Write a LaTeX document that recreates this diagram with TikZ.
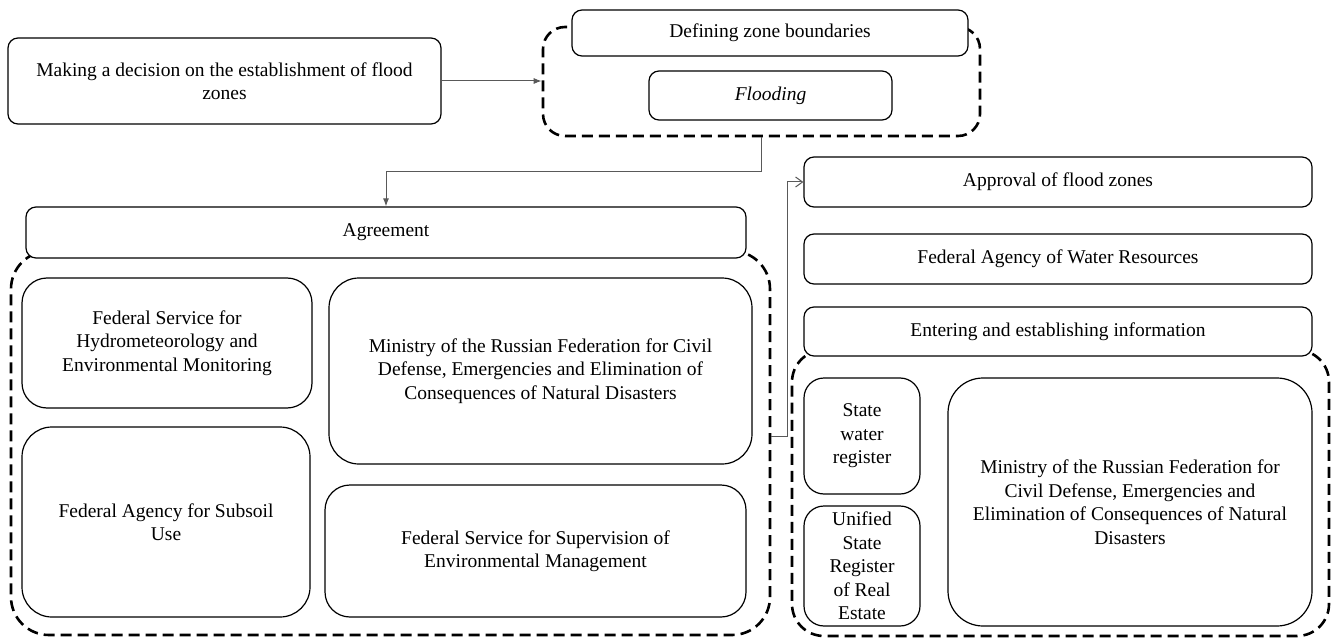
\documentclass[tikz,border=0pt]{standalone}
\usepackage{fontspec}
\setmainfont{Liberation Serif}
\usetikzlibrary{arrows.meta}

\begin{document}
\begin{tikzpicture}[x=1pt,y=-1pt,
    box/.style={draw,rounded corners=10pt,fill=white,line width=1.2pt,inner sep=0pt,
      align=center,font=\fontsize{19.5}{23.5}\selectfont},
    zone/.style={draw,rounded corners=22pt,line width=2.6pt,dash pattern=on 11pt off 6pt,inner sep=0pt},
    link/.style={draw=black!65,line width=1pt}]
    \useasboundingbox (0,0) rectangle (1333,639);
    % dashed groups first, boxes are filled white over them
    \node[zone,minimum width=437pt,minimum height=109pt] (r1) at (761.5,81.5) {};
    \node[zone,rounded corners=38pt,minimum width=759pt,minimum height=384pt] (r2) at (390.5,443) {};
    \node[zone,rounded corners=32pt,minimum width=537pt,minimum height=286pt] (r3) at (1060.5,493) {};

    \node[box,minimum width=433pt,minimum height=86pt] (decide) at (224.5,81)
      {Making a decision on the establishment of flood\\zones};
    \node[box,minimum width=396pt,minimum height=46pt] (bounds) at (770,33) {Defining zone boundaries};
    \node[box,minimum width=243pt,minimum height=49pt] (flood) at (770.5,95.5) {\itshape Flooding};

    \node[box,minimum width=720pt,minimum height=51pt] (agree) at (386,232.5) {Agreement};
    \node[box,rounded corners=25pt,minimum width=290pt,minimum height=130pt] (hydro) at (167,343)
      {Federal Service for\\Hydrometeorology and\\Environmental Monitoring};
    \node[box,rounded corners=30pt,minimum width=423pt,minimum height=186pt] (minleft) at (540.5,371)
      {Ministry of the Russian Federation for Civil\\Defense, Emergencies and Elimination of\\Consequences of Natural Disasters};
    \node[box,rounded corners=30pt,minimum width=288pt,minimum height=190pt] (subsoil) at (166,522)
      {Federal Agency for Subsoil\\Use};
    \node[box,rounded corners=25pt,minimum width=421pt,minimum height=132pt] (superv) at (535.5,551)
      {Federal Service for Supervision of\\Environmental Management};

    \node[box,minimum width=508pt,minimum height=50pt] (approve) at (1058,182) {Approval of flood zones};
    \node[box,minimum width=508pt,minimum height=50pt] (water) at (1058,259) {Federal Agency of Water Resources};
    \node[box,minimum width=508pt,minimum height=49pt] (enter) at (1058,331.5) {Entering and establishing information};
    \node[box,rounded corners=20pt,minimum width=116pt,minimum height=116pt] (swr) at (862,436)
      {State\\water\\register};
    \node[box,rounded corners=20pt,minimum width=116pt,minimum height=120pt] (usr) at (862,566)
      {Unified\\State\\Register\\of Real\\Estate};
    \node[box,rounded corners=35pt,minimum width=364pt,minimum height=248pt] (minright) at (1130,502)
      {Ministry of the Russian Federation for\\Civil Defense, Emergencies and\\Elimination of Consequences of Natural\\Disasters};

    \coordinate (bend) at (386,172);
    \coordinate (jog) at (787,436);
    \draw[link,-{Latex[length=8pt,width=6pt]}] (decide.east) -- (decide.east -| r1.west);
    \draw[link,-{Latex[length=8pt,width=6pt]}] (r1.south) |- (bend) -- (agree.north);
    \draw[link,-{Straight Barb[length=7pt,width=10pt]}] (r2.east |- jog) -- (jog) |- (approve.west);
\end{tikzpicture}
\end{document}
